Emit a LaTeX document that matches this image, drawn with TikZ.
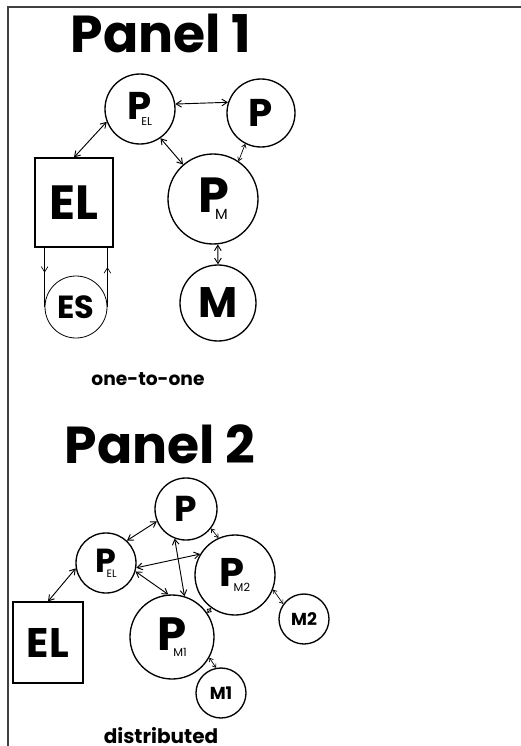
\documentclass[tikz,border=0pt]{standalone}
\usepackage{fontspec}
\setmainfont{Poppins}
\usetikzlibrary{positioning, arrows.meta, decorations.markings}

\newcommand{\fs}[1]{\fontsize{#1}{#1}\selectfont\bfseries}
\newcommand{\Psub}[3]{\fs{#1}P\kern-0.28em\raisebox{-0.14em}{\fontsize{#2}{#2}\selectfont\mdseries #3}}

\tikzset{
  proc/.style={circle, draw, line width=1pt, inner sep=0pt, minimum size=#1*1.5pt},
  store/.style={draw, line width=0.9pt, inner sep=0pt},
  caption/.style={anchor=base, inner sep=0pt},
  link/.style={<->, line width=0.7pt},
  short/.style={{Straight Barb[length=2.5pt,width=3.5pt]}-{Straight Barb[length=2.5pt,width=3.5pt]}, line width=0.5pt},
  midarrow/.style={postaction={decorate}, decoration={markings,
      mark=at position #1 with {\arrow{Straight Barb[length=4pt,width=5pt]}}}},
  >={Straight Barb[length=4pt,width=5pt]}
}

\begin{document}
\begin{tikzpicture}[x=0.75pt, y=-0.75pt]
  \useasboundingbox (0,0) rectangle (521,746);
  \draw[line width=1.5pt, black!75] (8,746) -- (8,7) -- (521,7);

  % Panel 1
  \node[caption] (title1) at (161,52) {\fs{39}Panel 1};
  \node[proc=35] (pel1) at (140,109) {\Psub{29}{8.5}{EL}};
  \node[proc=34] (p1) at (261,113) {\fs{29}P};
  \node[proc=45] (pm1) at (213,199) {\Psub{37}{11}{M}};
  \node[proc=38] (m1) at (218,303) {\fs{32}M};
  \node[store, minimum width=58.5pt, minimum height=66.75pt] (el1) at (74,202.5) {\fs{36}EL};
  \node[proc=31, line width=0.6pt] (es1) at (76,307) {\fs{24}ES};
  \node[caption] (cap1) at (148,385) {\fs{14}one-to-one};

  \draw[link] (pel1.201) -- (el1.north);
  \draw[link] (pel1.8) -- (p1.162);
  \draw[link] (pel1.305) -- (pm1.131);
  \draw[short] (p1.243) -- (pm1.56);
  \draw[link] (pm1.276) -- (m1.north);
  \draw[line width=0.5pt, midarrow=0.42] (es1.west |- el1.south) -- (es1.west);
  \draw[line width=0.5pt, midarrow=0.67] (es1.east) -- (es1.east |- el1.south);

  % Panel 2
  \node[caption] (title2) at (160,463) {\fs{39}Panel 2};
  \node[proc=31] (p2) at (186,509) {\fs{27}P};
  \node[proc=30] (pel2) at (106,563) {\Psub{25}{8}{EL}};
  \node[proc=40] (pm2) at (235,575) {\Psub{30}{8.5}{M2}};
  \node[proc=25] (mm2) at (304,619) {\fs{13}M2};
  \node[proc=42] (pm12) at (172,637) {\Psub{35}{8.5}{M1}};
  \node[proc=25] (mm1) at (221,693) {\fs{13}M1};
  \node[store, minimum width=52.5pt, minimum height=60.75pt] (el2) at (48,642.5) {\fs{31}EL};
  \node[caption] (cap2) at (161,743) {\fs{15}distributed};

  \draw[link] (pel2.190) -- (el2.north);
  \draw[link] (pel2.47) -- (p2.203);
  \draw[link] (pel2.351) -- (pm2.149);
  \draw[link] (pel2.344) -- (pm12.95);
  \draw[link] (p2.249) -- (pm12.73);
  \draw[short] (p2.322) -- (pm2.114);
  \draw[short] (pm2.234) -- (pm12.34);
  \draw[short] (pm2.339) -- (mm2.144);
  \draw[short] (pm12.331) -- (mm1.101);
\end{tikzpicture}
\end{document}
